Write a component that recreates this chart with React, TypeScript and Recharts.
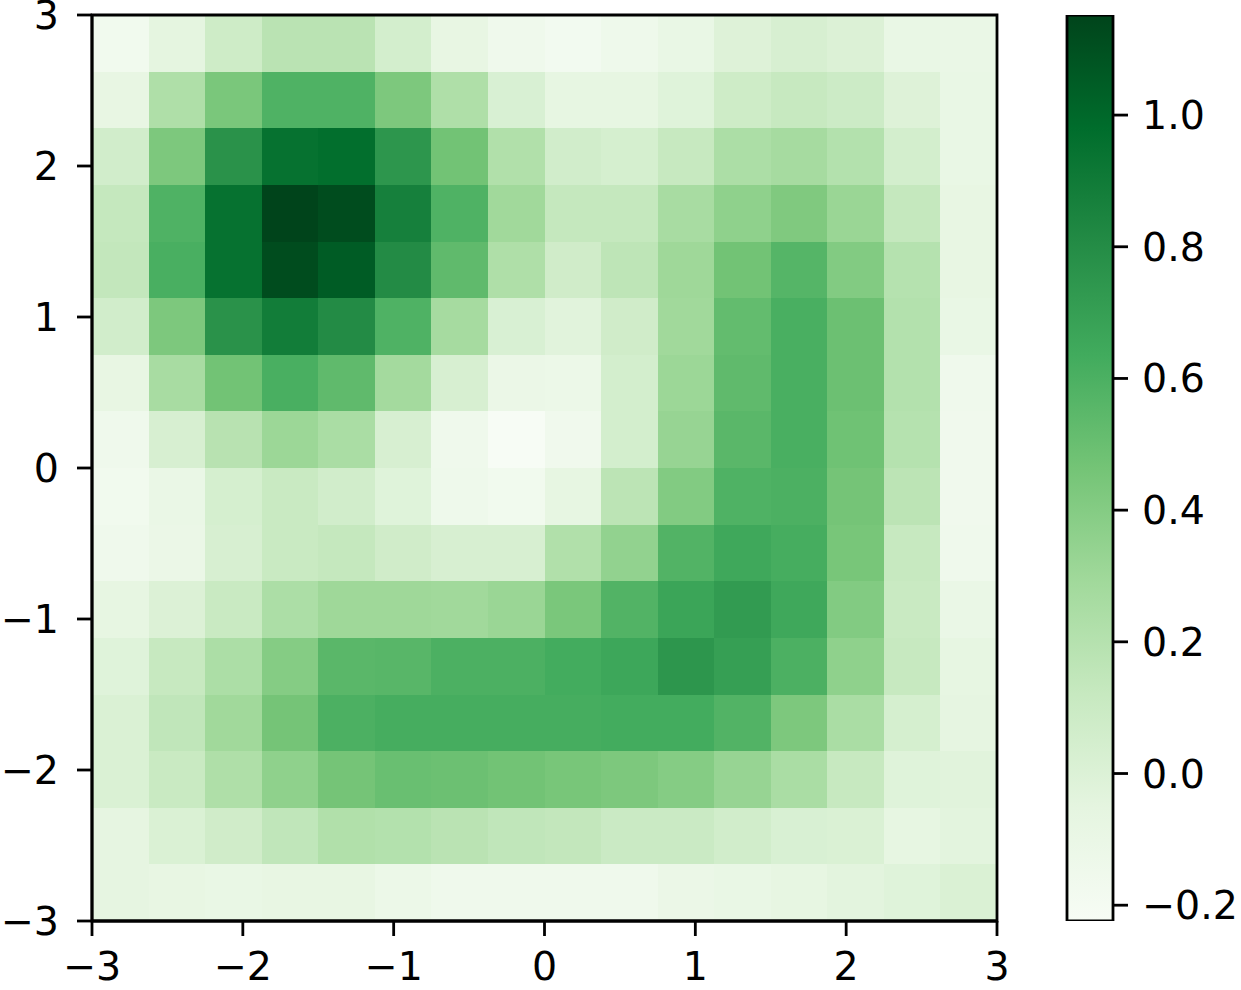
import { Bar, BarChart, ReferenceArea, Scatter, ScatterChart, XAxis, YAxis } from "recharts";

const axisTicks = [-3, -2, -1, 0, 1, 2, 3];
const barTicks = [-0.2, 0, 0.2, 0.4, 0.6, 0.8, 1.0];
const axisCorners = [{ x: -3, y: -3 }, { x: 3, y: 3 }];
const valueMin = -0.224;
const valueMax = 1.152;
const gridSize = 16;

// Greens colormap stops
const greens = ["#f7fcf5", "#e5f5e0", "#c7e9c0", "#a1d99b", "#74c476", "#41ab5d", "#238b45", "#006d2c", "#00441b"];

// rows run top (y = 3) to bottom (y = -3)
const row01 = [-0.17, -0.05, 0.08, 0.18, 0.18, 0.05, -0.08, -0.15, -0.18, -0.14, -0.09, -0.01, 0.03, 0.0, -0.09, -0.1];
const row02 = [-0.08, 0.23, 0.44, 0.59, 0.59, 0.43, 0.23, 0.02, -0.07, -0.07, -0.02, 0.08, 0.12, 0.09, -0.01, -0.09];
const row03 = [0.06, 0.43, 0.77, 0.95, 0.97, 0.75, 0.47, 0.22, 0.06, 0.04, 0.12, 0.24, 0.27, 0.21, 0.05, -0.09];
const row04 = [0.13, 0.59, 0.95, 1.15, 1.12, 0.87, 0.59, 0.29, 0.13, 0.13, 0.26, 0.36, 0.42, 0.32, 0.13, -0.08];
const row05 = [0.14, 0.61, 0.95, 1.12, 1.05, 0.81, 0.53, 0.23, 0.07, 0.16, 0.3, 0.47, 0.57, 0.41, 0.2, -0.08];
const row06 = [0.06, 0.43, 0.77, 0.89, 0.81, 0.59, 0.27, 0.02, -0.03, 0.07, 0.29, 0.52, 0.61, 0.49, 0.21, -0.09];
const row07 = [-0.08, 0.26, 0.47, 0.61, 0.53, 0.28, 0.03, -0.11, -0.12, 0.05, 0.31, 0.53, 0.61, 0.49, 0.21, -0.15];
const row08 = [-0.15, 0.03, 0.19, 0.31, 0.25, 0.03, -0.15, -0.22, -0.16, 0.05, 0.33, 0.55, 0.61, 0.48, 0.2, -0.16];
const row09 = [-0.17, -0.1, 0.04, 0.11, 0.06, -0.02, -0.14, -0.17, -0.07, 0.17, 0.41, 0.59, 0.6, 0.46, 0.17, -0.16];
const row10 = [-0.15, -0.11, 0.03, 0.11, 0.13, 0.07, 0.03, 0.03, 0.22, 0.35, 0.58, 0.65, 0.62, 0.45, 0.12, -0.15];
const row11 = [-0.07, 0.0, 0.11, 0.24, 0.3, 0.3, 0.29, 0.32, 0.44, 0.58, 0.67, 0.72, 0.65, 0.41, 0.11, -0.1];
const row12 = [-0.02, 0.12, 0.24, 0.4, 0.55, 0.56, 0.6, 0.6, 0.63, 0.66, 0.75, 0.7, 0.6, 0.36, 0.12, -0.07];
const row13 = [0.01, 0.15, 0.29, 0.46, 0.6, 0.62, 0.62, 0.62, 0.62, 0.63, 0.63, 0.58, 0.43, 0.25, 0.04, -0.06];
const row14 = [0.01, 0.11, 0.23, 0.36, 0.46, 0.5, 0.49, 0.47, 0.45, 0.43, 0.4, 0.33, 0.25, 0.12, -0.02, -0.03];
const row15 = [-0.06, 0.01, 0.07, 0.15, 0.22, 0.21, 0.18, 0.15, 0.14, 0.1, 0.1, 0.06, 0.02, 0.01, -0.07, -0.04];
const row16 = [-0.06, -0.08, -0.09, -0.08, -0.08, -0.12, -0.15, -0.15, -0.15, -0.15, -0.11, -0.09, -0.07, -0.04, -0.02, 0.01];
const rows = [row01, row02, row03, row04, row05, row06, row07, row08, row09, row10, row11, row12, row13, row14, row15, row16];

const cells = rows.flatMap((row, r) =>
  row.map((value, c) => ({
    x: -3 + (6 * (c + 0.5)) / gridSize,
    y: 3 - (6 * (r + 0.5)) / gridSize,
    value,
  }))
);

const FONT = "'DejaVu Sans', sans-serif";
const TICK = { fontSize: 39.5, fontFamily: FONT, fill: "#000" };
const LINE = { stroke: "#000", strokeWidth: 2.8 };
const plot = { left: 92, right: 997, top: 15, bottom: 921 };
const chartW = 1040;
const chartH = 990;
const cellW = (plot.right - plot.left) / gridSize;
const cellH = (plot.bottom - plot.top) / gridSize;

function hex(c: string) {
  return [1, 3, 5].map((i) => parseInt(c.slice(i, i + 2), 16));
}

function colorFor(value: number) {
  const t = Math.min(1, Math.max(0, (value - valueMin) / (valueMax - valueMin))) * (greens.length - 1);
  const i = Math.min(greens.length - 2, Math.floor(t));
  const a = hex(greens[i]);
  const b = hex(greens[i + 1]);
  const mix = a.map((v, k) => Math.round(v + (b[k] - v) * (t - i)));
  return `rgb(${mix.join(",")})`;
}

function fmt(v: number) {
  return String(v).replace("-", "\u2212");
}

function fmtBar(v: number) {
  return v.toFixed(1).replace("-", "\u2212");
}

function HeatCell(props: any) {
  const { cx, cy, payload } = props;
  return (
    <rect
      x={cx - cellW / 2}
      y={cy - cellH / 2}
      width={cellW}
      height={cellH}
      fill={colorFor(payload.value)}
      shapeRendering="crispEdges"
    />
  );
}

const NoMark = () => null;

const layer = { position: "absolute", left: 0, top: 0 } as const;

export default function App() {
  return (
    <div style={{ position: "absolute", left: 0, top: 0, width: 1241, height: 990 }}>
      {/* heat cells underneath, axes and frame in a second chart on top */}
      <div style={layer}>
        <ScatterChart
          width={chartW}
          height={chartH}
          margin={{ top: plot.top, left: plot.left, right: chartW - plot.right, bottom: chartH - plot.bottom }}
        >
          <XAxis type="number" dataKey="x" domain={[-3, 3]} hide />
          <YAxis type="number" dataKey="y" domain={[-3, 3]} hide />
          <Scatter data={cells} shape={HeatCell} isAnimationActive={false} />
        </ScatterChart>
      </div>
      <div style={layer}>
        <ScatterChart
          width={chartW}
          height={chartH}
          margin={{ top: plot.top, left: 0, right: chartW - plot.right, bottom: 0 }}
        >
          <XAxis
            type="number"
            dataKey="x"
            domain={[-3, 3]}
            ticks={axisTicks}
            tickFormatter={fmt}
            tick={TICK}
            tickSize={15}
            tickMargin={16}
            axisLine={LINE}
            tickLine={LINE}
            height={chartH - plot.bottom}
            interval={0}
          />
          <YAxis
            type="number"
            dataKey="y"
            domain={[-3, 3]}
            ticks={axisTicks}
            tickFormatter={fmt}
            tick={TICK}
            tickSize={15}
            tickMargin={18}
            axisLine={LINE}
            tickLine={LINE}
            width={plot.left}
            interval={0}
          />
          <Scatter data={axisCorners} shape={NoMark} isAnimationActive={false} />
          <ReferenceArea x1={-3} x2={3} y1={-3} y2={3} fill="none" stroke="#000" strokeWidth={2.8} ifOverflow="visible" />
        </ScatterChart>
      </div>
      <div style={{ position: "absolute", left: chartW, top: 0 }}>
        <BarChart
          width={201}
          height={chartH}
          data={[{ name: "scale", range: [valueMin, valueMax] }]}
          margin={{ top: plot.top, left: 27, right: 0, bottom: chartH - plot.bottom }}
          barCategoryGap={0}
        >
          <defs>
            <linearGradient id="greensBar" x1="0" y1="1" x2="0" y2="0">
              {greens.map((c, i) => (
                <stop key={c} offset={`${(i / (greens.length - 1)) * 100}%`} stopColor={c} />
              ))}
            </linearGradient>
          </defs>
          <XAxis dataKey="name" hide />
          <YAxis
            orientation="right"
            type="number"
            domain={[valueMin, valueMax]}
            ticks={barTicks}
            tickFormatter={fmtBar}
            tick={TICK}
            tickSize={15}
            tickMargin={14}
            axisLine={false}
            tickLine={LINE}
            width={128}
            interval={0}
            allowDataOverflow
          />
          <Bar dataKey="range" fill="url(#greensBar)" stroke="#000" strokeWidth={2.8} isAnimationActive={false} />
        </BarChart>
      </div>
    </div>
  );
}
